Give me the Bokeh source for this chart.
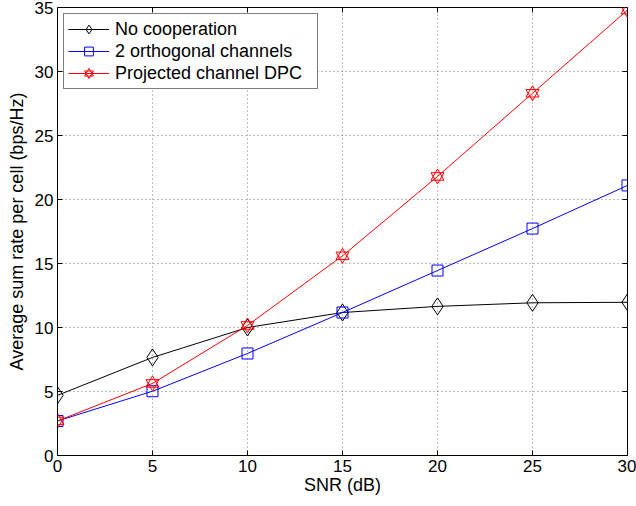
import math
from bokeh.plotting import figure
from bokeh.models import SingleIntervalTicker, Legend, LegendItem, Range1d
from bokeh.embed import file_html
from bokeh.resources import INLINE

# ---- data ----
snr = [0, 5, 10, 15, 20, 25, 30]
no_coop = [4.7, 7.66, 10.0, 11.17, 11.65, 11.93, 11.97]
orth = [2.7, 5.02, 7.97, 11.17, 14.45, 17.73, 21.1]
dpc = [2.7, 5.63, 10.16, 15.6, 21.8, 28.3, 34.8]
series_labels = ["No cooperation", "2 orthogonal channels", "Projected channel DPC"]
x_label = "SNR (dB)"
y_label = "Average sum rate per cell (bps/Hz)"
x_min, x_max = 0, 30
y_min, y_max = 0, 35
x_ticks = [0, 5, 10, 15, 20, 25, 30]
y_ticks = [0, 5, 10, 15, 20, 25, 30, 35]

FONT = "Liberation Sans"

p = figure(width=636, height=506, output_backend="svg", toolbar_location=None,
           x_range=Range1d(x_min, x_max), y_range=Range1d(y_min, y_max),
           min_border_left=57, min_border_right=9, min_border_top=7,
           min_border_bottom=51)
p.background_fill_color = "white"
p.border_fill_color = "white"
p.outline_line_color = "black"
p.outline_line_width = 1

p.xaxis.ticker = SingleIntervalTicker(interval=5, num_minor_ticks=0)
p.yaxis.ticker = SingleIntervalTicker(interval=5, num_minor_ticks=0)
for ax in (p.xaxis, p.yaxis):
    ax.major_tick_in = 5
    ax.major_tick_out = 0
    ax.minor_tick_line_color = None
    ax.axis_line_color = "black"
    ax.major_tick_line_color = "black"
    ax.major_label_text_font = FONT
    ax.major_label_text_font_size = "17px"
    ax.major_label_text_color = "black"
    ax.axis_label_text_font = FONT
    ax.axis_label_text_font_size = "18px"
    ax.axis_label_text_font_style = "normal"
    ax.axis_label_text_color = "black"
p.xaxis.axis_label = x_label
p.yaxis.axis_label = y_label
p.xaxis.major_label_standoff = 4
p.yaxis.major_label_standoff = 4
p.xaxis.axis_label_standoff = 0
p.yaxis.axis_label_standoff = 5

p.grid.grid_line_color = "black"
p.grid.grid_line_alpha = 0.5
p.grid.grid_line_dash = "1 3"
p.grid.grid_line_width = 1

# inward ticks on the top and right edges of the box
p.ray(x=x_ticks, y=[y_max] * len(x_ticks), length=5, length_units="screen",
      angle=-math.pi / 2, line_color="black", line_width=1)
p.ray(x=[x_max] * len(y_ticks), y=y_ticks, length=5, length_units="screen",
      angle=math.pi, line_color="black", line_width=1)

# series
l1 = p.line(snr, no_coop, line_color="black", line_width=1)
m1 = p.scatter(snr, no_coop, marker="diamond", size=17, line_color="black",
               fill_color=None, line_width=1)
l2 = p.line(snr, orth, line_color="#0000ff", line_width=1)
m2 = p.scatter(snr, orth, marker="square", size=11, line_color="#0000ff",
               fill_color=None, line_width=1)
l3 = p.line(snr, dpc, line_color="#ff0000", line_width=1)
m3a = p.scatter(snr, dpc, marker="triangle", size=13, line_color="#ff0000",
                fill_color=None, line_width=1)
m3b = p.scatter(snr, dpc, marker="inverted_triangle", size=13, line_color="#ff0000",
                fill_color=None, line_width=1)

legend = Legend(items=[
    LegendItem(label=series_labels[0], renderers=[l1, m1]),
    LegendItem(label=series_labels[1], renderers=[l2, m2]),
    LegendItem(label=series_labels[2], renderers=[l3, m3a, m3b]),
], location="top_left")
legend.margin = 6
legend.padding = 4
legend.spacing = 0
legend.glyph_width = 41
legend.glyph_height = 22
legend.label_height = 19
legend.label_width = 198
legend.label_standoff = 6
legend.label_text_font = FONT
legend.label_text_font_size = "18px"
legend.label_text_color = "black"
legend.border_line_color = "black"
legend.border_line_width = 1
legend.background_fill_color = "white"
legend.background_fill_alpha = 1
p.add_layout(legend)

open("out.html", "w").write(file_html(p, INLINE))
